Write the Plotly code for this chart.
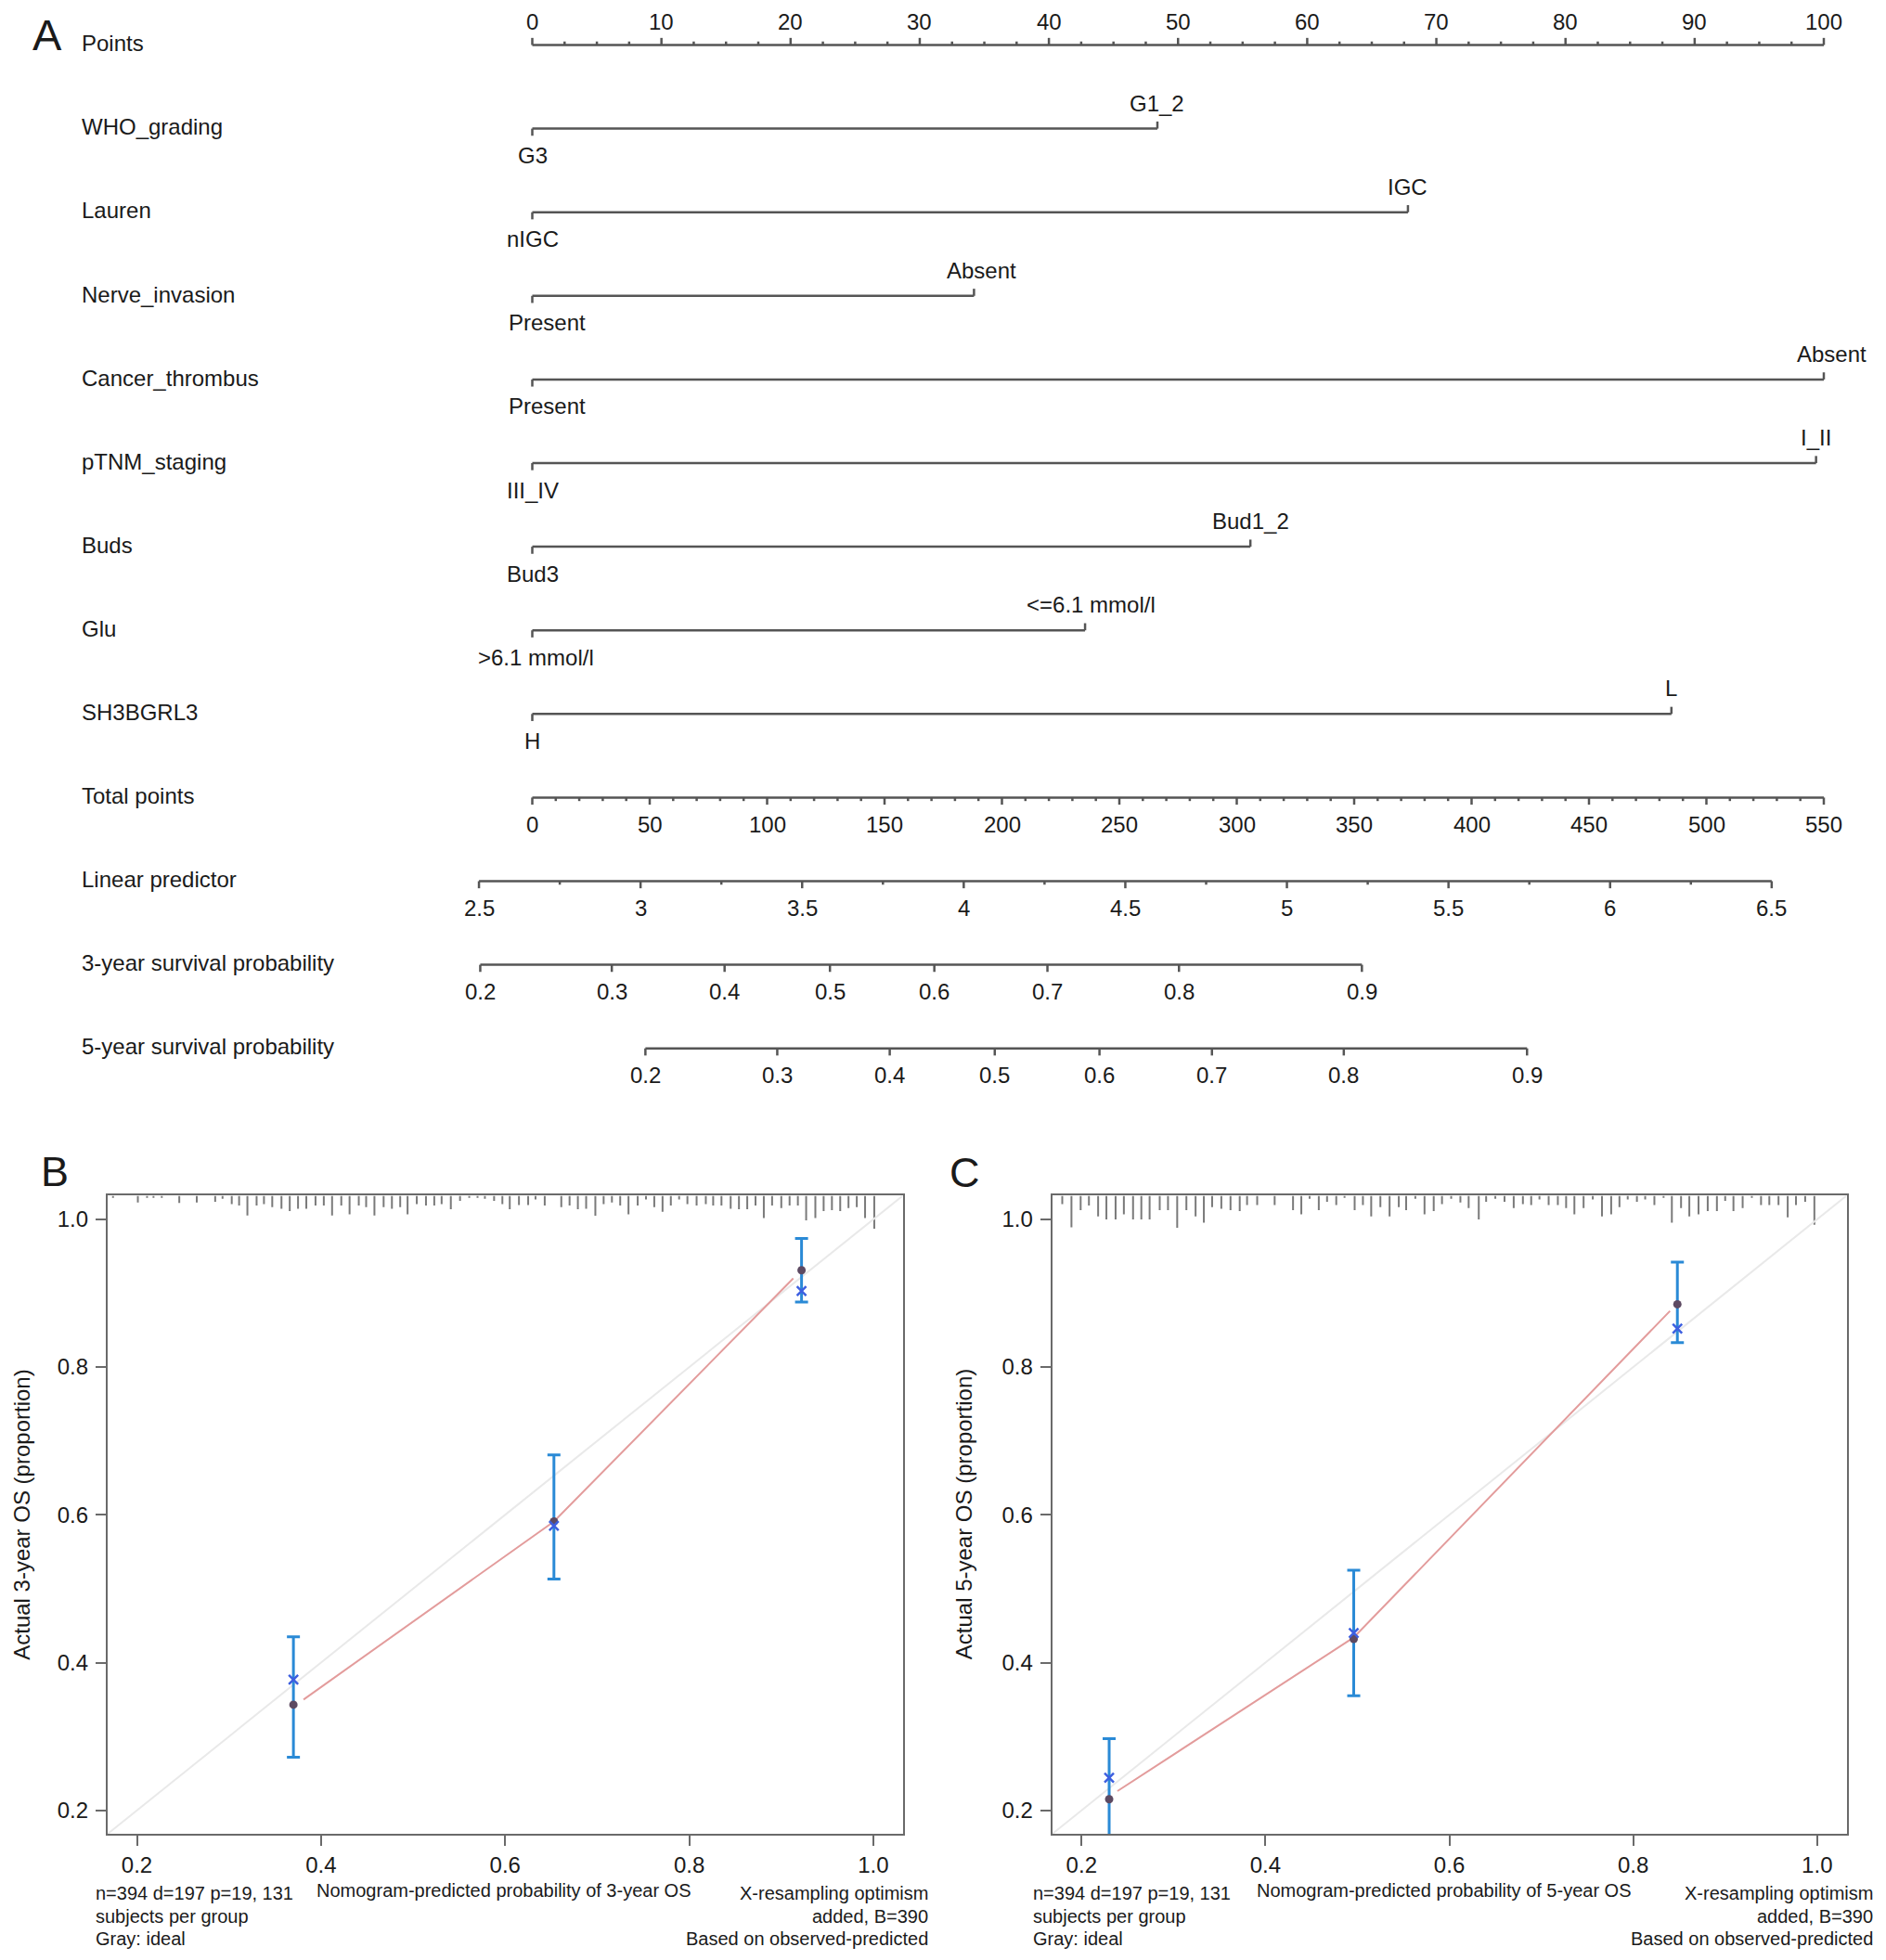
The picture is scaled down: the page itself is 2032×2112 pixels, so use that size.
import plotly.graph_objects as go

W, H = 2032, 2112
FONT = "Liberation Sans, Arial, Helvetica, sans-serif"
TXT = "#1a1a1a"
AXC = "#555555"
BOXC = "#6a6a6a"

# ---------------- Panel A : nomogram data ----------------
var_names = ["WHO_grading", "Lauren", "Nerve_invasion", "Cancer_thrombus",
             "pTNM_staging", "Buds", "Glu", "SH3BGRL3"]
low_levels = ["G3", "nIGC", "Present", "Present", "III_IV", "Bud3", "&gt;6.1 mmol/l", "H"]
high_levels = ["G1_2", "IGC", "Absent", "Absent", "I_II", "Bud1_2", "&lt;=6.1 mmol/l", "L"]
low_points = [0, 0, 0, 0, 0, 0, 0, 0]
high_points = [48.4, 67.8, 34.2, 100.0, 99.4, 55.6, 42.8, 88.2]

points_ticks = [0, 10, 20, 30, 40, 50, 60, 70, 80, 90, 100]
total_ticks = [0, 50, 100, 150, 200, 250, 300, 350, 400, 450, 500, 550]
total_max = 550
lp_ticks = [2.5, 3, 3.5, 4, 4.5, 5, 5.5, 6, 6.5]
lp_labels = ["2.5", "3", "3.5", "4", "4.5", "5", "5.5", "6", "6.5"]
lp_at_zero_total = 2.665
lp_per_total = 0.007266

surv3_probs = ["0.2", "0.3", "0.4", "0.5", "0.6", "0.7", "0.8", "0.9"]
surv3_lp = [2.504, 2.911, 3.260, 3.586, 3.909, 4.259, 4.666, 5.232]
surv5_probs = ["0.2", "0.3", "0.4", "0.5", "0.6", "0.7", "0.8", "0.9"]
surv5_lp = [3.015, 3.423, 3.771, 4.096, 4.420, 4.768, 5.176, 5.743]

# ---------------- Panel B / C : calibration data ----------------
b_pred = [0.370, 0.653, 0.922]
b_obs = [0.343, 0.591, 0.931]
b_corr = [0.377, 0.585, 0.903]
b_lo = [0.272, 0.513, 0.888]
b_hi = [0.435, 0.681, 0.974]
b_line_x = [0.381, 0.653, 0.913]
b_line_y = [0.350, 0.591, 0.920]

c_pred = [0.230, 0.496, 0.848]
c_obs = [0.215, 0.432, 0.885]
c_corr = [0.244, 0.440, 0.852]
c_lo = [0.150, 0.355, 0.833]
c_hi = [0.297, 0.525, 0.942]
c_line_x = [0.239, 0.496, 0.840]
c_line_y = [0.226, 0.434, 0.876]

b_rug_x = [0.174, 0.201, 0.211, 0.218, 0.227, 0.246, 0.265, 0.285, 0.293, 0.303,
           0.311, 0.320, 0.330, 0.338, 0.347, 0.357, 0.366, 0.375, 0.384, 0.394,
           0.403, 0.412, 0.422, 0.431, 0.441, 0.449, 0.458, 0.468, 0.477, 0.486,
           0.494, 0.504, 0.514, 0.523, 0.531, 0.541, 0.551, 0.561, 0.570, 0.578,
           0.588, 0.597, 0.605, 0.615, 0.625, 0.633, 0.643, 0.661, 0.670, 0.679,
           0.688, 0.698, 0.707, 0.716, 0.725, 0.734, 0.744, 0.753, 0.762, 0.771,
           0.780, 0.789, 0.798, 0.808, 0.818, 0.826, 0.835, 0.845, 0.854, 0.863,
           0.872, 0.881, 0.890, 0.900, 0.909, 0.918, 0.927, 0.937, 0.946, 0.955,
           0.964, 0.973, 0.982, 0.991, 1.001]
b_rug_h = [0.003, 0.0092, 0.003, 0.003, 0.003, 0.010, 0.0092, 0.0084, 0.0042, 0.0113,
           0.0134, 0.0268, 0.0134, 0.0113, 0.0155, 0.0176, 0.021, 0.0176, 0.0176, 0.0134,
           0.0134, 0.0268, 0.0134, 0.0251, 0.0134, 0.0155, 0.0268, 0.0155, 0.0176, 0.0155,
           0.0251, 0.0113, 0.0134, 0.0134, 0.0113, 0.0184, 0.0071, 0.003, 0.003, 0.0042,
           0.0071, 0.0113, 0.0184, 0.0126, 0.0126, 0.005, 0.0134, 0.0155, 0.0134, 0.0184,
           0.0176, 0.0272, 0.0113, 0.0092, 0.0134, 0.0251, 0.0134, 0.005, 0.0155, 0.0218,
           0.0134, 0.005, 0.0113, 0.0134, 0.0113, 0.0134, 0.0134, 0.0176, 0.0184, 0.0184,
           0.0134, 0.0302, 0.0134, 0.0168, 0.0134, 0.0134, 0.0335, 0.0302, 0.021, 0.0197,
           0.021, 0.0168, 0.0155, 0.0302, 0.0448]

c_rug_x = [0.179, 0.189, 0.199, 0.208, 0.218, 0.227, 0.237, 0.246, 0.256, 0.265,
           0.274, 0.285, 0.294, 0.304, 0.314, 0.324, 0.333, 0.342, 0.352, 0.362,
           0.372, 0.380, 0.391, 0.410, 0.430, 0.439, 0.448, 0.458, 0.467, 0.477,
           0.486, 0.497, 0.506, 0.515, 0.525, 0.535, 0.545, 0.553, 0.563, 0.573,
           0.583, 0.592, 0.602, 0.612, 0.621, 0.632, 0.640, 0.650, 0.660, 0.670,
           0.680, 0.689, 0.698, 0.708, 0.718, 0.727, 0.736, 0.746, 0.756, 0.766,
           0.776, 0.785, 0.794, 0.804, 0.813, 0.823, 0.833, 0.842, 0.852, 0.861,
           0.871, 0.881, 0.891, 0.900, 0.909, 0.919, 0.929, 0.939, 0.948, 0.958,
           0.968, 0.977, 0.987, 0.997]
c_rug_h = [0.0113, 0.0427, 0.0197, 0.0134, 0.0281, 0.0323, 0.0323, 0.0251, 0.0323, 0.0323,
           0.0323, 0.0197, 0.0197, 0.0436, 0.0197, 0.0281, 0.0365, 0.0155, 0.0176, 0.0197,
           0.021, 0.0126, 0.0126, 0.0126, 0.0197, 0.0251, 0.0042, 0.0197, 0.0084, 0.0126,
           0.003, 0.0197, 0.0126, 0.0281, 0.0155, 0.0281, 0.0155, 0.0197, 0.0042, 0.0251,
           0.021, 0.0113, 0.0042, 0.0092, 0.0168, 0.0323, 0.0084, 0.0042, 0.0084, 0.0168,
           0.0113, 0.0126, 0.005, 0.0126, 0.0126, 0.0168, 0.0251, 0.0168, 0.005, 0.0281,
           0.0251, 0.0155, 0.005, 0.0084, 0.005, 0.0126, 0.003, 0.0365, 0.0168, 0.0281,
           0.0251, 0.021, 0.021, 0.0071, 0.021, 0.0168, 0.003, 0.0126, 0.0126, 0.0126,
           0.0293, 0.0126, 0.0084, 0.0394]

cal_ticks = [0.2, 0.4, 0.6, 0.8, 1.0]
cal_ticktext = ["0.2", "0.4", "0.6", "0.8", "1.0"]
cal_range = [0.168, 1.032]

# ---------------- layout geometry (pixels) ----------------
PX0, PX_PER_PT = 573.5, 13.915      # x pixel of 0 points, pixels per point
ROW0, ROW_H = 48.5, 90.1            # y pixel of the first nomogram row, pixels per row
# small horizontal nudges (px) of some level labels, as typeset in the original
LABEL_NUDGE = {"Present": 16, "Absent": 8, "&lt;=6.1 mmol/l": 6, "&gt;6.1 mmol/l": 4}


def total_to_pts(t):
    return t * 100.0 / total_max


def lp_to_pts(lp):
    return total_to_pts((lp - lp_at_zero_total) / lp_per_total)


fig = go.Figure()
annots = []


def label(x, y, text, size=24, xanchor="center", xref="x", yref="y", angle=0, xshift=0):
    annots.append(dict(x=x, y=y, xref=xref, yref=yref, text=text, showarrow=False,
                       xanchor=xanchor, yanchor="middle", textangle=angle, xshift=xshift,
                       font=dict(family=FONT, size=size, color=TXT)))


seg_x, seg_y = [], []


def seg(x0, y0, x1, y1):
    seg_x.extend([x0, x1, None])
    seg_y.extend([y0, y1, None])


MAJ, MIN = 0.085, 0.042
TICK_ABOVE, TICK_BELOW = -0.28, 0.318
LEV_ABOVE, LEV_BELOW = -0.305, 0.322

row_names = (["Points"] + var_names +
             ["Total points", "Linear predictor",
              "3-year survival probability", "5-year survival probability"])
for i, nm in enumerate(row_names):
    label(86 / W, i - 0.02, nm, xanchor="left", xref="paper")

# Points axis
r = 0
seg(points_ticks[0], r, points_ticks[-1], r)
for v in points_ticks:
    seg(v, r, v, r - MAJ)
    label(v, r + TICK_ABOVE, str(v))
step = (points_ticks[1] - points_ticks[0]) / 4.0
for a in points_ticks[:-1]:
    for k in (1, 2, 3):
        seg(a + k * step, r, a + k * step, r - MIN)

# factor rows
for j in range(len(var_names)):
    r = j + 1
    lo, hi = low_points[j], high_points[j]
    seg(lo, r, hi, r)
    seg(lo, r, lo, r + MAJ)
    seg(hi, r, hi, r - MAJ)
    label(lo, r + LEV_BELOW, low_levels[j], xshift=LABEL_NUDGE.get(low_levels[j], 0))
    label(hi, r + LEV_ABOVE, high_levels[j], xshift=LABEL_NUDGE.get(high_levels[j], 0))

# Total points
r = len(var_names) + 1
seg(total_to_pts(total_ticks[0]), r, total_to_pts(total_ticks[-1]), r)
for t in total_ticks:
    x = total_to_pts(t)
    seg(x, r, x, r + MAJ)
    label(x, r + TICK_BELOW, str(t))
tstep = (total_ticks[1] - total_ticks[0]) / 5.0
for a in total_ticks[:-1]:
    for k in (1, 2, 3, 4):
        x = total_to_pts(a + k * tstep)
        seg(x, r, x, r + MIN)

# Linear predictor
r += 1
seg(lp_to_pts(lp_ticks[0]), r, lp_to_pts(lp_ticks[-1]), r)
for v, t in zip(lp_ticks, lp_labels):
    x = lp_to_pts(v)
    seg(x, r, x, r + MAJ)
    label(x, r + TICK_BELOW, t)
for a, b in zip(lp_ticks[:-1], lp_ticks[1:]):
    x = lp_to_pts((a + b) / 2.0)
    seg(x, r, x, r + MIN)

# survival probability axes
for probs, lps in ((surv3_probs, surv3_lp), (surv5_probs, surv5_lp)):
    r += 1
    seg(lp_to_pts(lps[0]), r, lp_to_pts(lps[-1]), r)
    for p, v in zip(probs, lps):
        x = lp_to_pts(v)
        seg(x, r, x, r + MAJ)
        label(x, r + TICK_BELOW, p)

fig.add_trace(go.Scatter(x=seg_x, y=seg_y, mode="lines", xaxis="x", yaxis="y",
                         line=dict(color=AXC, width=2.5), hoverinfo="skip"))

label(51 / W, 1 - 37.8 / H, "A", size=47, xref="paper", yref="paper")


# ---------------- Panels B and C ----------------
def calib_panel(xa, ya, pred, obs, corr, lo, hi, lx, ly, rug_x, rug_h):
    top = cal_range[1]
    rx, ry = [], []
    for v, h in zip(rug_x, rug_h):
        rx += [v, v, None]
        ry += [top, top - h, None]
    fig.add_trace(go.Scatter(x=rx, y=ry, mode="lines", xaxis=xa, yaxis=ya,
                             line=dict(color="#7a7a7a", width=2), hoverinfo="skip"))
    fig.add_trace(go.Scatter(x=cal_range, y=cal_range, mode="lines", xaxis=xa, yaxis=ya,
                             line=dict(color="#e9e9e9", width=2), hoverinfo="skip"))
    fig.add_trace(go.Scatter(x=lx, y=ly, mode="lines", xaxis=xa, yaxis=ya,
                             line=dict(color="#e39c9c", width=2), hoverinfo="skip"))
    fig.add_trace(go.Scatter(
        x=pred, y=obs, mode="markers", xaxis=xa, yaxis=ya,
        marker=dict(size=1, color="rgba(0,0,0,0)"),
        error_y=dict(type="data", symmetric=False,
                     array=[h - o for h, o in zip(hi, obs)],
                     arrayminus=[o - l for o, l in zip(obs, lo)],
                     color="#2a8ad6", thickness=3, width=7),
        hoverinfo="skip"))
    fig.add_trace(go.Scatter(x=pred, y=obs, mode="markers", xaxis=xa, yaxis=ya,
                             marker=dict(size=9, color="#5d4a62"), hoverinfo="skip"))
    fig.add_trace(go.Scatter(x=pred, y=corr, mode="markers", xaxis=xa, yaxis=ya,
                             marker=dict(size=10, symbol="x-thin", color="#3d5fe0",
                                         line=dict(width=2.5, color="#3d5fe0")),
                             hoverinfo="skip"))


calib_panel("x2", "y2", b_pred, b_obs, b_corr, b_lo, b_hi, b_line_x, b_line_y, b_rug_x, b_rug_h)
calib_panel("x3", "y3", c_pred, c_obs, c_corr, c_lo, c_hi, c_line_x, c_line_y, c_rug_x, c_rug_h)

BOX_TOP, BOX_BOT = 1288.4, 1976.2
ydom = [1 - BOX_BOT / H, 1 - BOX_TOP / H]
axis_common = dict(range=cal_range, showgrid=False, zeroline=False, showline=True, mirror=True,
                   linecolor=BOXC, linewidth=2, ticks="outside", ticklen=11, tickwidth=2,
                   tickcolor=BOXC, tickvals=cal_ticks, ticktext=cal_ticktext,
                   tickfont=dict(family=FONT, size=24, color=TXT), fixedrange=True)

fig.update_layout(
    xaxis=dict(domain=[0, 1], range=[-PX0 / PX_PER_PT, (W - PX0) / PX_PER_PT], visible=False,
               fixedrange=True),
    yaxis=dict(domain=[0, 1], range=[(H - ROW0) / ROW_H, -ROW0 / ROW_H], visible=False,
               fixedrange=True),
    xaxis2=dict(domain=[115.8 / W, 972.7 / W], anchor="y2", **axis_common),
    yaxis2=dict(domain=ydom, anchor="x2", ticklabelstandoff=3, **axis_common),
    xaxis3=dict(domain=[1133.6 / W, 1989.5 / W], anchor="y3", **axis_common),
    yaxis3=dict(domain=ydom, anchor="x3", ticklabelstandoff=3, **axis_common),
)

# panel letters and titles
label(58.6 / W, 1 - 1262 / H, "B", size=45, xref="paper", yref="paper")
label(1039.5 / W, 1 - 1263 / H, "C", size=45, xref="paper", yref="paper")
label(22.8 / W, 1 - 1632 / H, "Actual 3-year OS (proportion)", size=24,
      xref="paper", yref="paper", angle=-90)
label(1038.2 / W, 1 - 1632 / H, "Actual 5-year OS (proportion)", size=24,
      xref="paper", yref="paper", angle=-90)

sub_left = ["n=394 d=197 p=19, 131", "subjects per group", "Gray: ideal"]
sub_right = ["X-resampling optimism", "added, B=390", "Based on observed-predicted"]
line_y = [2040, 2064.5, 2088.5]
for (lx_px, rx_px, cx_px, title) in ((100.8, 1002, 543, "Nomogram-predicted probability of 3-year OS"),
                                     (1110.6, 2020.4, 1556, "Nomogram-predicted probability of 5-year OS")):
    for t, yy in zip(sub_left, line_y):
        label(lx_px / W, 1 - yy / H, t, size=20, xanchor="left", xref="paper", yref="paper")
    for t, yy in zip(sub_right, line_y):
        label(rx_px / W, 1 - yy / H, t, size=20, xanchor="right", xref="paper", yref="paper")
    label(cx_px / W, 1 - 2037 / H, title, size=20, xref="paper", yref="paper")

fig.update_layout(
    width=W, height=H, autosize=False,
    margin=dict(l=0, r=0, t=0, b=0),
    paper_bgcolor="white", plot_bgcolor="white",
    showlegend=False, annotations=annots,
    font=dict(family=FONT, color=TXT),
)

fig.write_html("out.html", config={"displayModeBar": False},
               post_script="document.body.style.margin='0';document.body.style.overflow='hidden';")
